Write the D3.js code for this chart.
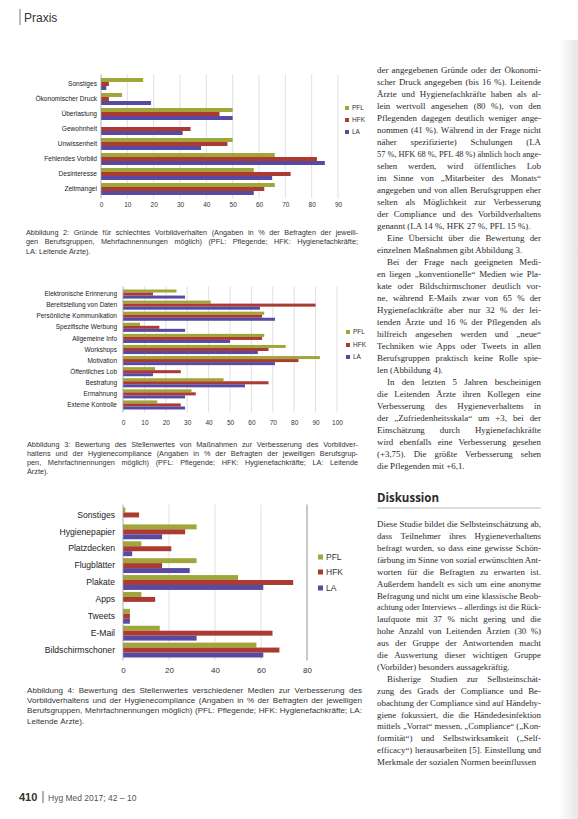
<!DOCTYPE html>
<html><head><meta charset="utf-8">
<script src="https://cdn.jsdelivr.net/npm/d3@7"></script>
<style>body{margin:0;background:#fff}svg{display:block}</style>
</head><body>
<script>
// ---------- DATA ----------
const series = ["PFL", "HFK", "LA"];
const seriesColors = ["#a0a63a", "#ab3a30", "#5849a2"];

// Abbildung 2
const cat2 = ["Sonstiges","Ökonomischer Druck","Überlastung","Gewohnheit","Unwissenheit","Fehlendes Vorbild","Desinteresse","Zeitmangel"];
const pfl2 = [16, 8, 50, 0, 50, 66, 58, 66];
const hfk2 = [3, 3, 45, 34, 48, 82, 72, 62];
const la2  = [2, 19, 50, 31, 38, 85, 65, 58];
const ticks2 = [0,10,20,30,40,50,60,70,80,90];

// Abbildung 3
const cat3 = ["Elektronische Erinnerung","Bereitstellung von Daten","Persönliche Kommunikation","Spezifische Werbung","Allgemeine Info","Workshops","Motivation","Öffentliches Lob","Bestrafung","Ermahnung","Externe Kontrolle"];
const pfl3 = [25, 41, 66, 8, 66, 76, 92, 15, 47, 32, 16];
const hfk3 = [14, 90, 65, 17, 65, 68, 82, 27, 68, 34, 27];
const la3  = [29, 64, 71, 29, 50, 63, 71, 14, 57, 29, 29];
const ticks3 = [0,10,20,30,40,50,60,70,80,90,100];

// Abbildung 4
const cat4 = ["Sonstiges","Hygienepapier","Platzdecken","Flugblätter","Plakate","Apps","Tweets","E-Mail","Bildschirmschoner"];
const pfl4 = [1, 32, 8, 32, 50, 8, 3, 16, 58];
const hfk4 = [7, 27, 21, 17, 74, 14, 3, 65, 68];
const la4  = [0, 17, 4, 29, 61, 0, 3, 32, 61];
const ticks4 = [0,20,40,60,80];

// Texts
const caption2 = [
 "Abbildung 2: Gründe für schlechtes Vorbildverhalten (Angaben in % der Befragten der jeweili-",
 "gen Berufsgruppen, Mehrfachnennungen möglich) (PFL: Pflegende; HFK: Hygienefachkräfte;",
 "LA: Leitende Ärzte)."];
const caption3 = [
 "Abbildung 3: Bewertung des Stellenwertes von Maßnahmen zur Verbesserung des Vorbildver-",
 "haltens und der Hygienecompliance (Angaben in % der Befragten der jeweiligen Berufsgrup-",
 "pen, Mehrfachnennungen möglich) (PFL: Pflegende; HFK: Hygienefachkräfte; LA: Leitende",
 "Ärzte)."];
const caption4 = [
 "Abbildung 4: Bewertung des Stellenwertes verschiedener Medien zur Verbesserung des",
 "Vorbildverhaltens und der Hygienecompliance (Angaben in % der Befragten der jeweiligen",
 "Berufsgruppen, Mehrfachnennungen möglich) (PFL: Pflegende; HFK: Hygienefachkräfte; LA:",
 "Leitende Ärzte)."];

const bodyParas = [
 {indent:false, lines:[
  "der angegebenen Gründe oder der Ökonomi-",
  "scher Druck angegeben (bis 16 %). Leitende",
  "Ärzte und Hygienefachkräfte haben als al-",
  "lein wertvoll angesehen (80 %), von den",
  "Pflegenden dagegen deutlich weniger ange-",
  "nommen (41 %). Während in der Frage nicht",
  "näher spezifizierte) Schulungen (LA",
  "57 %, HFK 68 %, PFL 48 %) ähnlich hoch ange-",
  "sehen werden, wird öffentliches Lob",
  "im Sinne von „Mitarbeiter des Monats“",
  "angegeben und von allen Berufsgruppen eher",
  "selten als Möglichkeit zur Verbesserung",
  "der Compliance und des Vorbildverhaltens",
  "genannt (LA 14 %, HFK 27 %, PFL 15 %)."]},
 {indent:true, lines:[
  "Eine Übersicht über die Bewertung der",
  "einzelnen Maßnahmen gibt Abbildung 3."]},
 {indent:true, lines:[
  "Bei der Frage nach geeigneten Medi-",
  "en liegen „konventionelle“ Medien wie Pla-",
  "kate oder Bildschirmschoner deutlich vor-",
  "ne, während E-Mails zwar von 65 % der",
  "Hygienefachkräfte aber nur 32 % der lei-",
  "tenden Ärzte und 16 % der Pflegenden als",
  "hilfreich angesehen werden und „neue“",
  "Techniken wie Apps oder Tweets in allen",
  "Berufsgruppen praktisch keine Rolle spie-",
  "len (Abbildung 4)."]},
 {indent:true, lines:[
  "In den letzten 5 Jahren bescheinigen",
  "die Leitenden Ärzte ihren Kollegen eine",
  "Verbesserung des Hygieneverhaltens in",
  "der „Zufriedenheitsskala“ um +3, bei der",
  "Einschätzung durch Hygienefachkräfte",
  "wird ebenfalls eine Verbesserung gesehen",
  "(+3,75). Die größte Verbesserung sehen",
  "die Pflegenden mit +6,1."]}
];
const discParas = [
 {indent:false, lines:[
  "Diese Studie bildet die Selbsteinschätzung ab,",
  "dass Teilnehmer ihres Hygieneverhaltens",
  "befragt wurden, so dass eine gewisse Schön-",
  "färbung im Sinne von sozial erwünschten Ant-",
  "worten für die Befragten zu erwarten ist.",
  "Außerdem handelt es sich um eine anonyme",
  "Befragung und nicht um eine klassische Beob-",
  "achtung oder Interviews – allerdings ist die Rück-",
  "laufquote mit 37 % nicht gering und die",
  "hohe Anzahl von Leitenden Ärzten (30 %)",
  "aus der Gruppe der Antwortenden macht",
  "die Auswertung dieser wichtigen Gruppe",
  "(Vorbilder) besonders aussagekräftig."]},
 {indent:true, lines:[
  "Bisherige Studien zur Selbsteinschät-",
  "zung des Grads der Compliance und Be-",
  "obachtung der Compliance sind auf Händehy-",
  "giene fokussiert, die die Händedesinfektion",
  "mittels „Vorrat“ messen, „Compliance“ („Kon-",
  "formität“) und Selbstwirksamkeit („Self-",
  "efficacy“) herausarbeiten [5]. Einstellung und",
  "Merkmale der sozialen Normen beeinflussen"]}
];

// ---------- DRAW ----------
const W = 578, H = 819;
const svg = d3.select("body").append("svg").attr("width", W).attr("height", H)
  .style("font-family", "'Liberation Sans', Arial, sans-serif");

const defs = svg.append("defs");
const gr = defs.append("linearGradient").attr("id","edge").attr("x1","0").attr("x2","1");
gr.append("stop").attr("offset","0").attr("stop-color","#ffffff");
gr.append("stop").attr("offset","1").attr("stop-color","#e6e6e6");
svg.append("rect").attr("x",558).attr("y",40).attr("width",20).attr("height",H-40).attr("fill","url(#edge)");

svg.append("line").attr("x1",20).attr("x2",20).attr("y1",9).attr("y2",25).attr("stroke","#777").attr("stroke-width",1);
svg.append("text").attr("x",24).attr("y",22).attr("font-size",12).attr("fill","#333").text("Praxis");

function drawChart(cfg) {
  const g = svg.append("g");
  const vals = [cfg.pfl, cfg.hfk, cfg.la];
  const x = d3.scaleLinear().domain([0, cfg.max]).range([cfg.x0, cfg.x1]);
  const y = d3.scaleBand().domain(cfg.cats).range([cfg.yTop, cfg.yBot]).paddingInner(cfg.pad).paddingOuter(cfg.pad / 2);
  const ys = d3.scaleBand().domain(series).range([0, y.bandwidth()]);
  g.append("g").selectAll("line").data(cfg.ticks.slice(1)).join("line")
    .attr("x1", d => x(d)).attr("x2", d => x(d))
    .attr("y1", cfg.yTop - 2).attr("y2", cfg.yBot + 2)
    .attr("stroke", d => (cfg.darkLast && d === cfg.max) ? "#777" : "#d8d8d8").attr("stroke-width", 0.8);
  series.forEach((s, si) => {
    g.append("g").selectAll("rect").data(cfg.cats).join("rect")
      .attr("x", x(0)).attr("y", c => y(c) + ys(s))
      .attr("width", (c, i) => x(vals[si][i]) - x(0))
      .attr("height", ys.bandwidth())
      .attr("fill", seriesColors[si]);
  });
  const ax = g.append("g").attr("transform", `translate(${x(0)},0)`)
    .call(d3.axisLeft(y).tickSize(0).tickPadding(cfg.labPad));
  ax.select(".domain").attr("stroke", "#999").attr("stroke-width", 0.8).attr("d", `M0,${cfg.yTop - 2}V${cfg.yBot + 2}`);
  ax.selectAll("text").attr("font-size", cfg.labFs).attr("fill", "#222").attr("font-family", "'Liberation Sans', Arial, sans-serif");
  const bx = g.append("g").attr("transform", `translate(0,${cfg.tickY})`)
    .call(d3.axisBottom(x).tickValues(cfg.ticks).tickSize(0).tickPadding(0).tickFormat(d3.format("d")));
  bx.select(".domain").remove();
  bx.selectAll("text").attr("font-size", cfg.tickFs).attr("fill", "#333").attr("dy", "0.35em").attr("y", 0)
    .attr("font-family", "'Liberation Sans', Arial, sans-serif");
  const lg = g.append("g");
  series.forEach((s, i) => {
    const ly = cfg.legY[i];
    lg.append("rect").attr("x", cfg.legX).attr("y", ly - cfg.legSq / 2).attr("width", cfg.legSq).attr("height", cfg.legSq).attr("fill", seriesColors[i]);
    lg.append("text").attr("x", cfg.legX + cfg.legSq + 3).attr("y", ly).attr("dy", "0.35em")
      .attr("font-size", cfg.legFs).attr("fill", "#333").text(s);
  });
}

drawChart({cats: cat2, pfl: pfl2, hfk: hfk2, la: la2, ticks: ticks2, max: 90,
  x0: 101, x1: 338, yTop: 76.5, yBot: 196.5, pad: 0.2, labPad: 4, labFs: 6.6,
  tickY: 205, tickFs: 6.5, legX: 345, legY: [108, 120, 132], legSq: 4, legFs: 6.5});

drawChart({cats: cat3, pfl: pfl3, hfk: hfk3, la: la3, ticks: ticks3, max: 100,
  x0: 123, x1: 337, yTop: 288.5, yBot: 410.5, pad: 0.18, labPad: 6, labFs: 6.5,
  tickY: 423, tickFs: 6.5, legX: 346, legY: [332, 345, 357], legSq: 4, legFs: 6.5});

drawChart({cats: cat4, pfl: pfl4, hfk: hfk4, la: la4, ticks: ticks4, max: 80, darkLast: true,
  x0: 123, x1: 307, yTop: 506.5, yBot: 658.5, pad: 0.12, labPad: 8, labFs: 8.6,
  tickY: 670, tickFs: 8, legX: 318, legY: [557, 572, 588], legSq: 5, legFs: 8.5});

// justify: widen word spacing if short, compress glyphs if too long
function fitText(el, width) {
  const nat = el.node().getComputedTextLength();
  const txt = el.text();
  const spaces = (txt.match(/ /g) || []).length;
  if (nat > width || spaces === 0) {
    el.attr("textLength", width).attr("lengthAdjust", "spacingAndGlyphs");
  } else {
    el.attr("word-spacing", ((width - nat) / spaces).toFixed(2));
  }
}
function justifiedLines(lines, x, yc, lh, width, fs, family, fill) {
  lines.forEach((t, i) => {
    const isLast = i === lines.length - 1;
    const el = svg.append("text").attr("x", x).attr("y", yc + i * lh).attr("dy", "0.35em")
      .attr("font-size", fs).attr("fill", fill).attr("font-family", family).text(t);
    if (!isLast) fitText(el, width);
  });
}
const sans = "'Liberation Sans', Arial, sans-serif";
justifiedLines(caption2, 26, 232, 9.5, 332, 7.3, sans, "#333");
justifiedLines(caption3, 27, 444, 9, 331, 7.3, sans, "#333");
justifiedLines(caption4, 27, 690, 10.3, 335, 8.1, sans, "#333");

const serif = "'Liberation Serif', 'Times New Roman', serif";
function paraBlock(paras, x, yc, lh, width, indent) {
  let k = 0;
  paras.forEach(p => {
    p.lines.forEach((t, i) => {
      const ind = (p.indent && i === 0) ? indent : 0;
      const isLast = i === p.lines.length - 1;
      const el = svg.append("text").attr("x", x + ind).attr("y", yc + k * lh).attr("dy", "0.35em")
        .attr("font-size", 8.9).attr("fill", "#2b2b2b").attr("font-family", serif).text(t);
      if (!isLast) fitText(el, width - ind);
      k++;
    });
  });
}
paraBlock(bodyParas, 377, 70, 12.0, 164, 10);

svg.append("text").attr("x", 377).attr("y", 498).attr("dy", "0.35em").attr("font-size", 11.5)
  .attr("font-weight", "bold").attr("fill", "#2a2a2a").attr("font-family", "'Open Sans', 'Liberation Sans', sans-serif").text("Diskussion");
svg.append("line").attr("x1", 377).attr("x2", 541).attr("y1", 508).attr("y2", 508).attr("stroke", "#bbb").attr("stroke-width", 1);

paraBlock(discParas, 377, 524, 11.9, 164, 10);

svg.append("text").attr("x", 19).attr("y", 801).attr("font-size", 11).attr("font-weight", "bold").attr("fill", "#333").text("410");
svg.append("line").attr("x1", 43).attr("x2", 43).attr("y1", 791).attr("y2", 803).attr("stroke", "#666").attr("stroke-width", 1);
svg.append("text").attr("x", 48).attr("y", 801).attr("font-size", 8.5).attr("fill", "#555").text("Hyg Med 2017; 42 – 10");
</script>
</body></html>
